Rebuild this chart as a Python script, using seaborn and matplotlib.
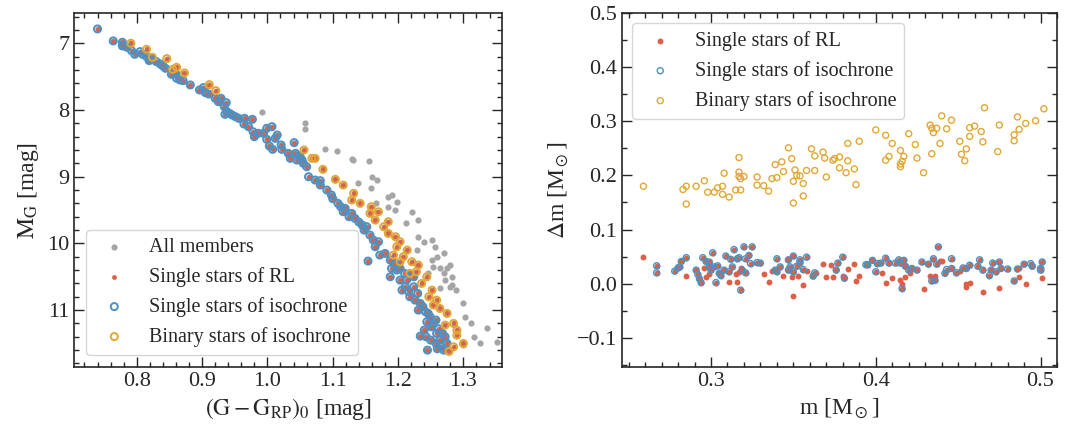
import numpy as np
import matplotlib
matplotlib.use("Agg")
import matplotlib.pyplot as plt
from matplotlib.ticker import MultipleLocator
import seaborn as sns

RED = "#dc5f48"
BLUE = "#4a92c4"
ORANGE = "#e3a733"
GREY = "#a5a5a5"

# left panel: colour-magnitude diagram
iso_single_col = [0.740, 0.764, 0.778, 0.778, 0.785, 0.792, 0.797, 0.805, 0.809, 0.815,
                  0.819, 0.822, 0.830, 0.836, 0.840, 0.844, 0.853, 0.860, 0.861, 0.866,
                  0.871, 0.882, 0.896, 0.902, 0.905, 0.910, 0.920, 0.929, 0.925, 0.934,
                  0.937, 0.938, 0.935, 0.942, 0.946, 0.951, 0.956, 0.965, 0.964, 0.971,
                  0.977, 0.978, 0.980, 0.986, 0.994, 0.999, 0.999, 1.007, 1.003, 1.008,
                  1.012, 1.015, 1.021, 1.022, 1.032, 1.041, 1.043, 1.048, 1.035, 1.045,
                  1.050, 1.053, 1.055, 1.060, 1.063, 1.073, 1.081, 1.081, 1.091, 1.098,
                  1.108, 1.119, 1.116, 1.129, 1.134, 1.145, 1.152, 1.157, 1.162, 1.170,
                  1.172, 1.154, 1.188, 1.190, 1.198, 1.188, 1.203, 1.206, 1.211, 1.218,
                  1.224, 1.226, 1.234, 1.231, 1.242, 1.249, 1.254, 1.244, 1.234, 1.243,
                  1.259, 1.264, 1.275, 1.272, 1.251, 1.213, 1.224, 1.203, 1.245, 1.260,
                  1.270, 1.100, 1.112, 1.125, 1.140, 1.148, 1.165, 1.180, 1.195, 1.210,
                  1.216, 1.230, 1.238, 1.246, 1.258, 1.262, 1.268, 1.250, 1.258, 1.266,
                  1.240]
iso_single_mag = [6.785, 6.965, 6.985, 7.040, 7.060, 7.110, 7.165, 7.125, 7.165, 7.200,
                  7.260, 7.230, 7.275, 7.310, 7.340, 7.375, 7.465, 7.460, 7.525, 7.550,
                  7.560, 7.625, 7.700, 7.665, 7.740, 7.760, 7.825, 7.825, 7.875, 7.950,
                  7.890, 8.025, 8.065, 8.050, 8.075, 8.100, 8.125, 8.125, 8.210, 8.250,
                  8.140, 8.325, 8.400, 8.350, 8.350, 8.440, 8.275, 8.250, 8.540, 8.590,
                  8.425, 8.375, 8.525, 8.590, 8.650, 8.490, 8.650, 8.690, 8.725, 8.750,
                  8.700, 8.750, 8.800, 8.850, 9.000, 9.050, 9.060, 9.125, 9.200, 9.275,
                  9.400, 9.475, 9.525, 9.550, 9.625, 9.725, 9.750, 9.875, 9.950, 9.975,
                  10.175, 10.265, 10.250, 10.375, 10.400, 10.500, 10.550, 10.700, 10.650, 10.800,
                  10.650, 10.850, 10.900, 11.000, 11.025, 11.100, 11.200, 11.175, 11.390, 11.400,
                  11.350, 11.450, 11.500, 11.400, 11.250, 10.550, 10.500, 10.375, 11.600, 11.580,
                  11.600, 9.330, 9.450, 9.600, 9.680, 9.800, 10.050, 10.150, 10.300, 10.450,
                  10.720, 10.750, 10.950, 11.050, 11.150, 11.280, 11.350, 11.450, 11.500, 11.550,
                  11.300]

iso_binary_col = [0.791, 0.815, 0.824, 0.846, 0.855, 0.861, 0.873, 0.911, 0.921, 1.056,
                  1.068, 1.073, 1.085, 1.104, 1.116, 1.132, 1.129, 1.142, 1.159, 1.157,
                  1.170, 1.165, 1.185, 1.178, 1.185, 1.196, 1.203, 1.198, 1.214, 1.208,
                  1.221, 1.231, 1.228, 1.244, 1.236, 1.252, 1.247, 1.259, 1.264, 1.275,
                  1.272, 1.290, 1.290, 1.300, 1.193, 1.218, 1.203, 1.254, 1.285, 1.285,
                  1.278]
iso_binary_mag = [7.000, 7.090, 7.210, 7.230, 7.390, 7.360, 7.445, 7.620, 7.710, 8.600,
                  8.725, 8.725, 8.890, 9.040, 9.125, 9.250, 9.350, 9.400, 9.450, 9.550,
                  9.525, 9.650, 9.675, 9.750, 9.850, 9.900, 9.975, 10.050, 10.100, 10.200,
                  10.275, 10.325, 10.425, 10.500, 10.600, 10.700, 10.800, 10.850, 10.975, 11.050,
                  11.225, 11.300, 11.375, 11.500, 10.175, 10.450, 10.275, 10.925, 11.200, 11.550,
                  11.620]

# members that are in neither isochrone group
other_col = [0.992, 1.058, 1.058, 1.088, 1.106, 1.129, 1.131, 1.155, 1.160, 1.168,
             1.139, 1.158, 1.166, 1.184, 1.190, 1.198, 1.185, 1.195, 1.221, 1.231,
             1.212, 1.231, 1.239, 1.252, 1.257, 1.270, 1.259, 1.252, 1.254, 1.264,
             1.275, 1.280, 1.282, 1.272, 1.280, 1.288, 1.264, 1.300, 1.303, 1.311,
             1.336, 1.316, 1.326, 1.351, 1.229, 1.246, 1.270, 1.282, 1.300]
other_mag = [8.035, 8.190, 8.290, 8.585, 8.610, 8.740, 8.745, 8.760, 9.010, 9.050,
             9.100, 9.175, 9.400, 9.300, 9.275, 9.375, 9.450, 9.500, 9.525, 9.650,
             9.700, 9.900, 9.975, 9.950, 10.050, 10.150, 10.200, 10.250, 10.350, 10.375,
             10.375, 10.325, 10.500, 10.550, 10.650, 10.700, 10.675, 10.900, 11.100, 11.200,
             11.275, 11.400, 11.500, 11.475, 10.100, 10.450, 10.450, 10.625, 11.530]

# right panel: mass vs mass difference
iso_single_m = [0.267, 0.267, 0.278, 0.280, 0.281, 0.282, 0.285, 0.291, 0.292, 0.293,
                0.294, 0.295, 0.297, 0.299, 0.299, 0.300, 0.301, 0.302, 0.303, 0.304,
                0.305, 0.306, 0.308, 0.309, 0.311, 0.312, 0.313, 0.314, 0.316, 0.317,
                0.318, 0.319, 0.320, 0.321, 0.321, 0.323, 0.324, 0.325, 0.328, 0.330,
                0.339, 0.340, 0.340, 0.342, 0.347, 0.347, 0.348, 0.350, 0.350, 0.352,
                0.354, 0.354, 0.356, 0.358, 0.362, 0.363, 0.376, 0.377, 0.380, 0.381,
                0.394, 0.395, 0.398, 0.400, 0.401, 0.403, 0.406, 0.408, 0.412, 0.414,
                0.415, 0.416, 0.417, 0.418, 0.420, 0.422, 0.425, 0.428, 0.432, 0.434,
                0.435, 0.436, 0.437, 0.438, 0.442, 0.443, 0.446, 0.446, 0.449, 0.453,
                0.455, 0.457, 0.462, 0.463, 0.465, 0.469, 0.470, 0.471, 0.473, 0.475,
                0.476, 0.480, 0.484, 0.486, 0.490, 0.494, 0.495, 0.500, 0.500, 0.501]
iso_single_dm = [0.033, 0.020, 0.023, 0.029, 0.031, 0.041, 0.048, 0.025, 0.017, 0.009,
                 0.002, 0.048, 0.041, 0.040, 0.031, 0.025, 0.057, 0.031, 0.002, 0.033,
                 0.019, 0.015, 0.025, 0.051, 0.022, 0.045, 0.031, 0.063, 0.046, 0.048,
                 -0.012, 0.025, 0.068, 0.020, 0.046, 0.052, 0.037, 0.068, 0.039, 0.038,
                 0.025, 0.046, 0.022, 0.031, 0.025, 0.044, 0.031, 0.051, 0.022, 0.032,
                 0.039, 0.044, 0.026, 0.049, 0.014, 0.020, 0.025, 0.038, 0.049, 0.010,
                 0.035, 0.035, 0.043, 0.022, 0.037, 0.038, 0.047, 0.038, 0.038, 0.044,
                 0.038, -0.009, 0.043, 0.032, 0.025, 0.028, 0.025, 0.040, 0.036, 0.005,
                 0.046, 0.006, 0.036, 0.068, 0.019, 0.026, 0.046, 0.028, 0.020, 0.029,
                 0.028, 0.034, 0.032, 0.044, 0.025, 0.015, 0.025, 0.038, 0.022, 0.040,
                 0.028, 0.027, 0.005, 0.027, 0.036, 0.037, 0.032, 0.028, 0.025, 0.040]

# RL singles that are not isochrone singles
rl_only_m = [0.259, 0.285, 0.296, 0.297, 0.299, 0.311, 0.315, 0.316, 0.317, 0.318,
             0.332, 0.335, 0.337, 0.344, 0.347, 0.349, 0.350, 0.353, 0.356, 0.358,
             0.364, 0.368, 0.370, 0.373, 0.374, 0.380, 0.383, 0.387, 0.388, 0.390,
             0.404, 0.406, 0.410, 0.415, 0.416, 0.418, 0.421, 0.429, 0.433, 0.436,
             0.439, 0.440, 0.451, 0.455, 0.455, 0.457, 0.465, 0.475, 0.487, 0.487,
             0.491, 0.501]
rl_only_dm = [0.049, 0.015, 0.028, 0.012, 0.017, 0.003, 0.017, 0.003, 0.022, 0.029,
              0.017, 0.003, 0.023, 0.014, 0.045, 0.012, -0.022, 0.014, -0.003, 0.023,
              0.020, 0.036, 0.012, 0.034, 0.012, 0.014, 0.027, 0.037, 0.005, 0.014,
              0.019, 0.002, 0.010, 0.006, 0.000, 0.012, 0.019, -0.009, 0.015, 0.015,
              0.042, 0.042, 0.023, 0.000, -0.007, 0.001, -0.015, -0.008, 0.028, 0.012,
              0.000, 0.010]

binary_m = [0.259, 0.283, 0.285, 0.285, 0.291, 0.296, 0.298, 0.302, 0.304, 0.307,
            0.307, 0.311, 0.308, 0.315, 0.318, 0.317, 0.317, 0.317, 0.318, 0.320,
            0.328, 0.328, 0.332, 0.335, 0.337, 0.340, 0.339, 0.343, 0.344, 0.347,
            0.349, 0.350, 0.350, 0.351, 0.352, 0.354, 0.356, 0.356, 0.358, 0.361,
            0.363, 0.363, 0.368, 0.369, 0.370, 0.374, 0.375, 0.378, 0.378, 0.382,
            0.383, 0.383, 0.387, 0.388, 0.390, 0.400, 0.406, 0.406, 0.408, 0.410,
            0.415, 0.415, 0.415, 0.416, 0.417, 0.420, 0.424, 0.425, 0.429, 0.433,
            0.434, 0.434, 0.435, 0.437, 0.439, 0.440, 0.443, 0.446, 0.451, 0.452,
            0.454, 0.455, 0.457, 0.457, 0.460, 0.464, 0.465, 0.466, 0.474, 0.475,
            0.484, 0.484, 0.486, 0.487, 0.491, 0.497, 0.502]
binary_dm = [0.180, 0.174, 0.180, 0.147, 0.180, 0.190, 0.169, 0.169, 0.177, 0.180,
             0.165, 0.160, 0.204, 0.173, 0.173, 0.233, 0.206, 0.198, 0.194, 0.198,
             0.197, 0.182, 0.181, 0.171, 0.194, 0.196, 0.220, 0.225, 0.207, 0.251,
             0.231, 0.189, 0.149, 0.210, 0.200, 0.199, 0.185, 0.162, 0.209, 0.249,
             0.236, 0.209, 0.243, 0.232, 0.197, 0.228, 0.231, 0.234, 0.214, 0.205,
             0.227, 0.259, 0.212, 0.183, 0.263, 0.284, 0.228, 0.274, 0.235, 0.259,
             0.216, 0.221, 0.246, 0.226, 0.235, 0.277, 0.257, 0.232, 0.205, 0.293,
             0.287, 0.240, 0.279, 0.287, 0.259, 0.310, 0.286, 0.302, 0.263, 0.239,
             0.227, 0.249, 0.288, 0.272, 0.291, 0.281, 0.262, 0.325, 0.244, 0.293,
             0.264, 0.275, 0.308, 0.285, 0.296, 0.301, 0.323]

sns.set_style("ticks")
plt.rcParams['font.family'] = ['Liberation Serif', 'DejaVu Serif']
plt.rcParams['mathtext.fontset'] = 'stix'
plt.rcParams['axes.linewidth'] = 1.2

fig = plt.figure(figsize=(10.68, 4.33), dpi=100)
ax1 = fig.add_axes([0.0693, 0.1524, 0.4007, 0.8176])
ax2 = fig.add_axes([0.5824, 0.1524, 0.4073, 0.8176])

# --- left panel ---
all_col = iso_single_col + iso_binary_col + other_col
all_mag = iso_single_mag + iso_binary_mag + other_mag
rl_col = iso_single_col + iso_binary_col
rl_mag = iso_single_mag + iso_binary_mag

sns.scatterplot(x=all_col, y=all_mag, ax=ax1, color=GREY, s=20, linewidth=0,
                label="All members")
sns.scatterplot(x=rl_col, y=rl_mag, ax=ax1, color=RED, s=12, linewidth=0,
                label="Single stars of RL")
sns.scatterplot(x=iso_single_col, y=iso_single_mag, ax=ax1, facecolor="none",
                edgecolor=BLUE, s=26, linewidth=1.4, label="Single stars of isochrone")
sns.scatterplot(x=iso_binary_col, y=iso_binary_mag, ax=ax1, facecolor="none",
                edgecolor=ORANGE, s=26, linewidth=1.4, label="Binary stars of isochrone")

ax1.set_xlim(0.704, 1.359)
ax1.set_ylim(11.853, 6.546)
ax1.xaxis.set_major_locator(MultipleLocator(0.1))
ax1.xaxis.set_minor_locator(MultipleLocator(0.02))
ax1.yaxis.set_major_locator(MultipleLocator(1))
ax1.yaxis.set_minor_locator(MultipleLocator(0.2))
ax1.set_xlabel(r"$\mathrm{(G-G_{RP})_0}$ [mag]", fontsize=17)
ax1.set_ylabel(r"$\mathrm{M_G}$ [mag]", fontsize=17)
ax1.legend(loc="lower left", fontsize=14.5, handletextpad=0.7,
           borderaxespad=0.6)

# --- right panel ---
rl_m = iso_single_m + rl_only_m
rl_dm = iso_single_dm + rl_only_dm

sns.scatterplot(x=binary_m, y=binary_dm, ax=ax2, facecolor="none", edgecolor=ORANGE,
                s=19, linewidth=1.0, label="Binary stars of isochrone")
sns.scatterplot(x=rl_m, y=rl_dm, ax=ax2, color=RED, s=18, linewidth=0,
                label="Single stars of RL")
sns.scatterplot(x=iso_single_m, y=iso_single_dm, ax=ax2, facecolor="none",
                edgecolor=BLUE, s=19, linewidth=1.0, label="Single stars of isochrone")

ax2.set_xlim(0.246, 0.510)
ax2.set_ylim(-0.154, 0.5)
ax2.xaxis.set_major_locator(MultipleLocator(0.1))
ax2.xaxis.set_minor_locator(MultipleLocator(0.01))
ax2.yaxis.set_major_locator(MultipleLocator(0.1))
ax2.yaxis.set_minor_locator(MultipleLocator(0.05))
ax2.set_xlabel(r"m [M$_\odot$]", fontsize=17)
ax2.set_ylabel(r"$\Delta$m [M$_\odot$]", fontsize=17)
h, l = ax2.get_legend_handles_labels()
order = [1, 2, 0]
ax2.legend([h[i] for i in order], [l[i] for i in order], loc="upper left",
           fontsize=14.5, handletextpad=0.7)

for ax in (ax1, ax2):
    ax.tick_params(which="both", direction="in", top=True, right=True,
                   labelsize=16, width=1.0)
    ax.tick_params(which="major", length=7)
    ax.tick_params(which="minor", length=3.5)
    for sp in ax.spines.values():
        sp.set_linewidth(1.2)

fig.savefig("out.png", dpi=100)
